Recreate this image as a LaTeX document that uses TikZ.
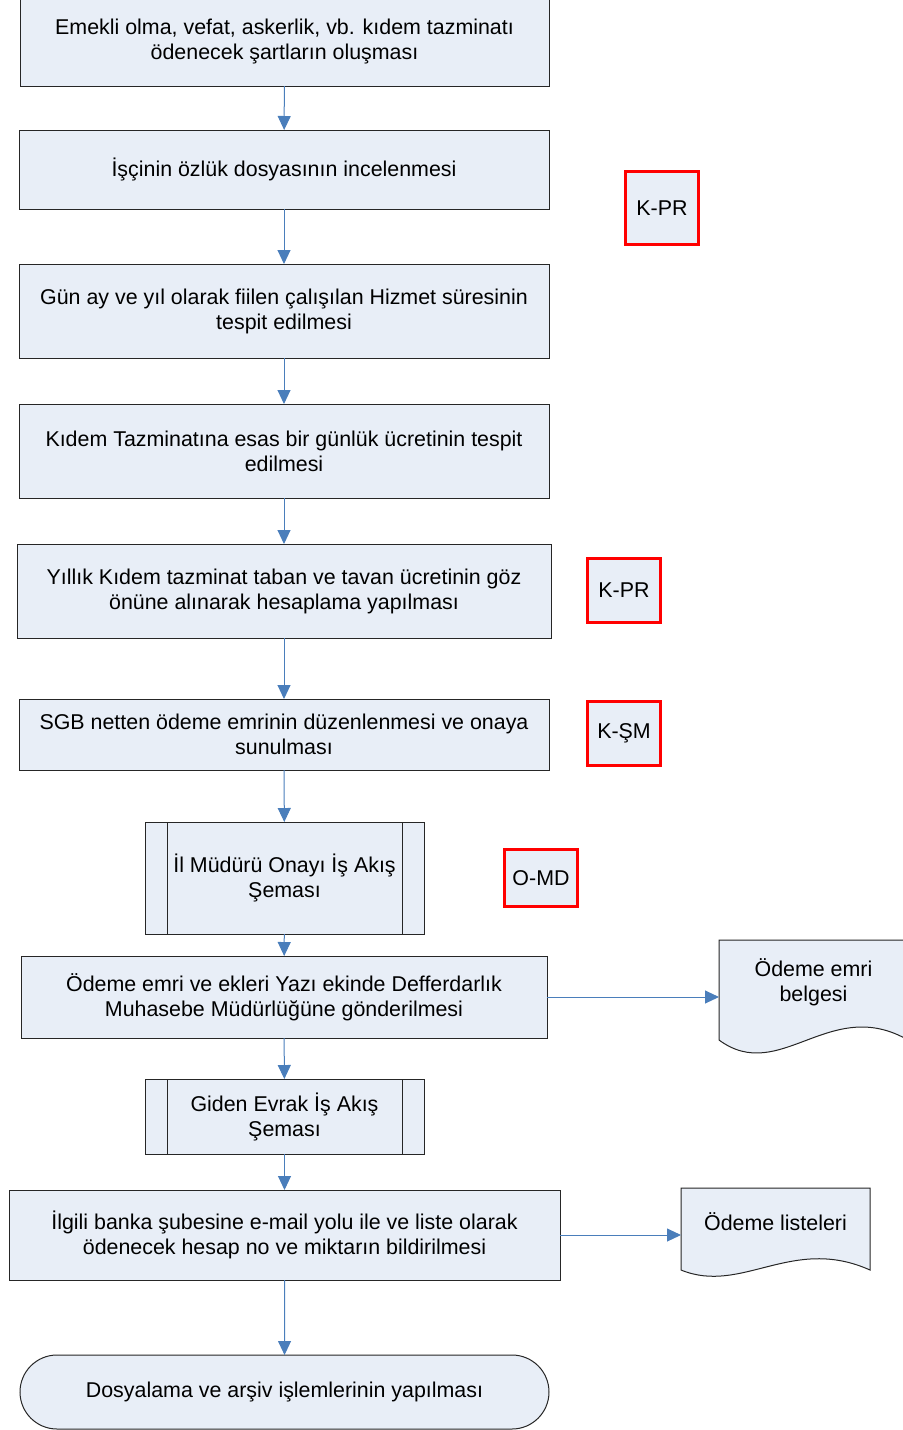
\documentclass[tikz,border=0pt]{standalone}
\usepackage{fontspec}
\setmainfont{Liberation Sans}
\usepackage{tikz}
\usetikzlibrary{
  positioning,
  shapes.misc,
  arrows.meta,
  calc,
  }
\definecolor{boxfill}{HTML}{E8EEF7}
\definecolor{linkblue}{HTML}{4A7EBB}

\begin{document}
\begin{tikzpicture}[x=0.5pt, y=-0.5pt,
    every node/.style={align=center, inner sep=0pt, outer sep=0pt, font=\fontsize{10.7}{12.5}\selectfont},
    stepbox/.style={rectangle, draw=black!85, line width=0.5pt, fill=boxfill},
    subflow/.style={stepbox},
    endbox/.style={rounded rectangle, draw=black!85, line width=0.5pt, fill=boxfill},
    codebox/.style={rectangle, draw=red, line width=1.5pt, fill=boxfill, minimum width=36.5pt},
    docbox/.style={draw=black!85, line width=0.5pt, fill=boxfill},
    conn/.style={draw=linkblue, line width=0.5pt, -{Triangle[width=6.5pt,length=7pt]}}]
                \useasboundingbox (0,0) rectangle (903,1430);

                \node[stepbox, minimum width=264.5pt, minimum height=44pt] (t1) at (284.5,42) {Emekli olma, vefat, askerlik, vb. kıdem tazminatı\\ödenecek şartların oluşması};
                \node[stepbox, minimum width=265pt, minimum height=39.5pt] (t2) at (284,169.5) {İşçinin özlük dosyasının incelenmesi};
                \node[stepbox, minimum width=265pt, minimum height=47pt] (t3) at (284,311) {Gün ay ve yıl olarak fiilen çalışılan Hizmet süresinin\\tespit edilmesi};
                \node[stepbox, minimum width=265pt, minimum height=47pt] (t4) at (284,451) {Kıdem Tazminatına esas bir günlük ücretinin tespit\\edilmesi};
                \node[stepbox, minimum width=267pt, minimum height=47pt] (t5) at (284,591) {Yıllık Kıdem tazminat taban ve tavan ücretinin göz\\önüne alınarak hesaplama yapılması};
                \node[stepbox, minimum width=265pt, minimum height=35.5pt] (t6) at (284,734.5) {SGB netten ödeme emrinin düzenlenmesi ve onaya\\sunulması};
                \node[subflow, minimum width=139.5pt, minimum height=56pt] (t7) at (284.5,878) {İl Müdürü Onayı İş Akış\\Şeması};
                \node[stepbox, minimum width=263pt, minimum height=41pt] (t8) at (284,997) {Ödeme emri ve ekleri Yazı ekinde Defferdarlık\\Muhasebe Müdürlüğüne gönderilmesi};
                \node[subflow, minimum width=139.5pt, minimum height=37.5pt] (t9) at (284.5,1116.5) {Giden Evrak İş Akış\\Şeması};
                \node[stepbox, minimum width=275.5pt, minimum height=45pt] (t10) at (284.5,1235) {İlgili banka şubesine e-mail yolu ile ve liste olarak\\ödenecek hesap no ve miktarın bildirilmesi};
                \node[endbox, minimum width=264.5pt, minimum height=37pt] (t11) at (284.5,1392) {Dosyalama ve arşiv işlemlerinin yapılması};

                \foreach \n in {t7,t9}{
                    \draw[line width=0.5pt, black!85] ([xshift=11pt]\n.north west) -- ([xshift=11pt]\n.south west);
                    \draw[line width=0.5pt, black!85] ([xshift=-11pt]\n.north east) -- ([xshift=-11pt]\n.south east);
                }

                \node[codebox, minimum height=36.5pt] (k1) at (662,208) {K-PR};
                \node[codebox, minimum height=32pt] (k2) at (624,590.5) {K-PR};
                \node[codebox, minimum height=32pt] (k3) at (624,733.5) {K-ŞM};
                \node[codebox, minimum height=28.5pt] (k4) at (541,878) {O-MD};

                \draw[docbox] (719,940) -- (908,940) -- (908,1040) .. controls (830,995) and (780,1085) .. (719,1040) -- cycle;
                \draw[docbox] (681,1188) -- (870,1188) -- (870,1270) .. controls (792,1235) and (742,1295) .. (681,1270) -- cycle;
                \node[minimum width=94.5pt] (d1) at (813.5,982) {Ödeme emri\\belgesi};
                \node[minimum width=94.5pt] (d2) at (775.5,1222) {Ödeme listeleri};

                \foreach \a/\b in {t1/t2,t2/t3,t3/t4,t4/t5,t5/t6,t6/t7,t7/t8,t8/t9,t9/t10,t10/t11}
                    \draw[conn] (\a) -- (\b);
                \draw[conn] (t8.east) -- (t8.east -| d1.west);
                \draw[conn] (t10.east) -- (t10.east -| d2.west);
\end{tikzpicture}
\end{document}
